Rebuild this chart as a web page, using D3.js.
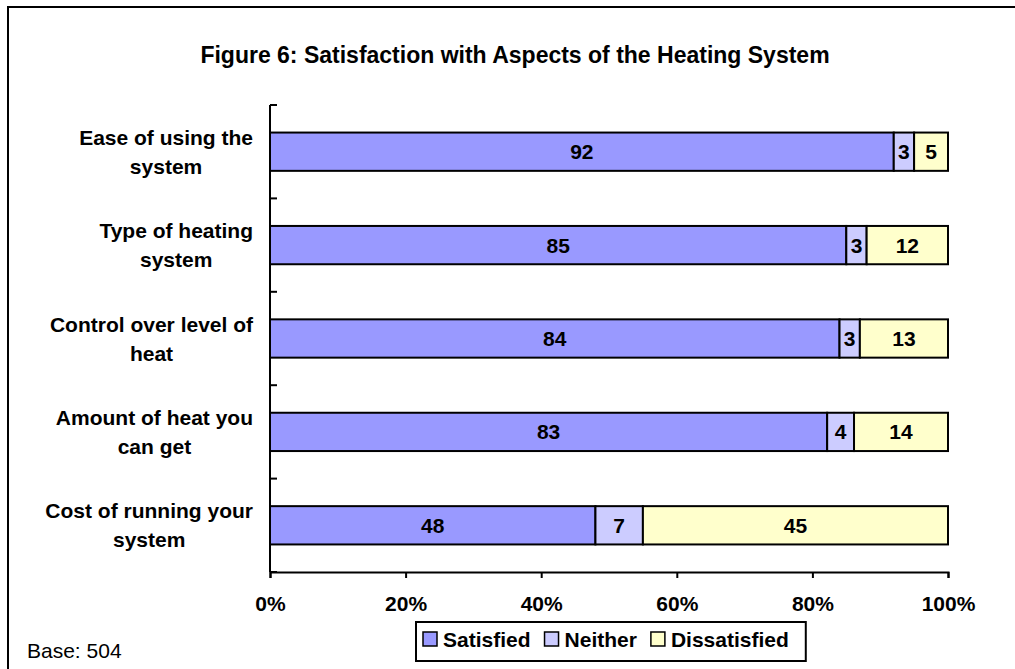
<!DOCTYPE html>
<html>
<head>
<meta charset="utf-8">
<script src="https://cdn.jsdelivr.net/npm/d3@7"></script>
<style>
  body { margin: 0; background: #fff; }
  svg text { font-family: Arial, "Liberation Sans", sans-serif; }
</style>
</head>
<body>
<script>
'use strict';

var width = 1015;
var height = 669;

var categories = ['Ease of using the system', 'Type of heating system', 'Control over level of heat', 'Amount of heat you can get', 'Cost of running your system'];
var seriesNames = ['Satisfied', 'Neither', 'Dissatisfied'];
var satisfied = [92, 85, 84, 83, 48];
var neither = [3, 3, 3, 4, 7];
var dissatisfied = [5, 12, 13, 14, 45];
var xTicks = [0, 0.2, 0.4, 0.6, 0.8, 1];
var colors = ['#9999ff', '#ccccff', '#ffffcc'];

var rows = categories.map(function (c, i) {
  return { cat: c, Satisfied: satisfied[i], Neither: neither[i], Dissatisfied: dissatisfied[i] };
});

var margin = { left: 270, right: 67, top: 105, bottom: 97 };
var fs = '21px';

var svg = d3.select('body').append('svg').attr('width', width).attr('height', height);

// outer frame (only top and left visible in the picture)
svg.append('rect').attr('x', 8).attr('y', 7).attr('width', width + 20).attr('height', height + 20)
  .attr('fill', 'none').attr('stroke', '#000').attr('stroke-width', 2);

svg.append('text').attr('x', 515).attr('y', 55).attr('text-anchor', 'middle').attr('dominant-baseline', 'central')
  .style('font-size', '23px').style('font-weight', 'bold')
  .text('Figure 6: Satisfaction with Aspects of the Heating System');

var x = d3.scaleLinear().domain([0, 1]).range([margin.left, width - margin.right]);
var y = d3.scaleBand().domain(categories).range([margin.top, height - margin.bottom]).paddingInner(0.59).paddingOuter(0.295);

var stack = d3.stack().keys(seriesNames).offset(d3.stackOffsetExpand);
var layers = stack(rows);

var g = svg.selectAll('.layer').data(layers).enter().append('g').attr('class', 'layer')
  .attr('fill', function (d, i) { return colors[i]; });

g.selectAll('rect').data(function (d) { return d; }).enter().append('rect')
  .attr('x', function (d) { return x(d[0]); })
  .attr('y', function (d) { return y(d.data.cat); })
  .attr('width', function (d) { return x(d[1]) - x(d[0]); })
  .attr('height', y.bandwidth())
  .attr('stroke', '#000').attr('stroke-width', 2);

layers.forEach(function (layer) {
  svg.append('g').selectAll('text').data(layer).enter().append('text')
    .attr('x', function (d) { return (x(d[0]) + x(d[1])) / 2; })
    .attr('y', function (d) { return y(d.data.cat) + y.bandwidth() / 2; })
    .attr('text-anchor', 'middle').attr('dominant-baseline', 'central')
    .style('font-size', fs).style('font-weight', 'bold')
    .text(function (d) { return d.data[layer.key]; });
});

// x axis
var xAxis = svg.append('g').attr('transform', 'translate(0,' + (height - margin.bottom) + ')')
  .call(d3.axisBottom(x).tickValues(xTicks).tickFormat(d3.format('.0%')).tickSizeOuter(0).tickSize(6).tickPadding(18));
xAxis.select('.domain').attr('stroke-width', 2);
xAxis.selectAll('.tick line').attr('stroke-width', 2);
xAxis.selectAll('text').style('font-size', fs).style('font-weight', 'bold').attr('fill', '#000')
  .style('font-family', 'Arial, "Liberation Sans", sans-serif');

// y axis with ticks between bands
var yAxisG = svg.append('g');
yAxisG.append('line').attr('x1', margin.left).attr('x2', margin.left)
  .attr('y1', margin.top).attr('y2', height - margin.bottom).attr('stroke', '#000').attr('stroke-width', 2);
var bounds = categories.map(function (c) { return y(c) - y.step() * y.paddingInner() / 2; });
bounds.push(height - margin.bottom);
yAxisG.selectAll('.yt').data(bounds).enter().append('line')
  .attr('x1', margin.left).attr('x2', margin.left + 7)
  .attr('y1', function (d) { return d; }).attr('y2', function (d) { return d; })
  .attr('stroke', '#000').attr('stroke-width', 2);

// category labels, wrapped and centred as a block right-aligned to the axis
var labelRight = 253;
categories.forEach(function (c) {
  var words = c.split(' ');
  var lines = [];
  var cur = '';
  var t = svg.append('text').style('font-size', fs).style('font-weight', 'bold');
  words.forEach(function (w) {
    var test = cur ? cur + ' ' + w : w;
    t.text(test);
    if (t.node().getComputedTextLength() > 215 && cur) {
      lines.push(cur);
      cur = w;
    } else {
      cur = test;
    }
  });
  lines.push(cur);
  var maxW = 0;
  lines.forEach(function (l) {
    t.text(l);
    maxW = Math.max(maxW, t.node().getComputedTextLength());
  });
  t.remove();
  var cy = y(c) + y.bandwidth() / 2;
  var lh = 29;
  svg.append('g').selectAll('text').data(lines).enter().append('text')
    .attr('x', labelRight - maxW / 2)
    .attr('y', function (d, i) { return cy + (i - (lines.length - 1) / 2) * lh; })
    .attr('text-anchor', 'middle').attr('dominant-baseline', 'central')
    .style('font-size', fs).style('font-weight', 'bold')
    .text(function (d) { return d; });
});

// legend
var legend = svg.append('g');
var lx = 423;
var ly = 639;
seriesNames.forEach(function (s, i) {
  legend.append('rect').attr('x', lx).attr('y', ly - 7).attr('width', 14).attr('height', 14)
    .attr('fill', colors[i]).attr('stroke', '#000').attr('stroke-width', 1.5);
  var tt = legend.append('text').attr('x', lx + 20).attr('y', ly).attr('dominant-baseline', 'central')
    .style('font-size', fs).style('font-weight', 'bold').text(s);
  lx += 20 + tt.node().getComputedTextLength() + 14;
});
legend.insert('rect', ':first-child').attr('x', 416).attr('y', 622).attr('width', lx - 14 + 17 - 416).attr('height', 39)
  .attr('fill', '#fff').attr('stroke', '#000').attr('stroke-width', 2);

svg.append('text').attr('x', 27).attr('y', 650).attr('dominant-baseline', 'central')
  .style('font-size', fs).text('Base: 504');
</script>
</body>
</html>
